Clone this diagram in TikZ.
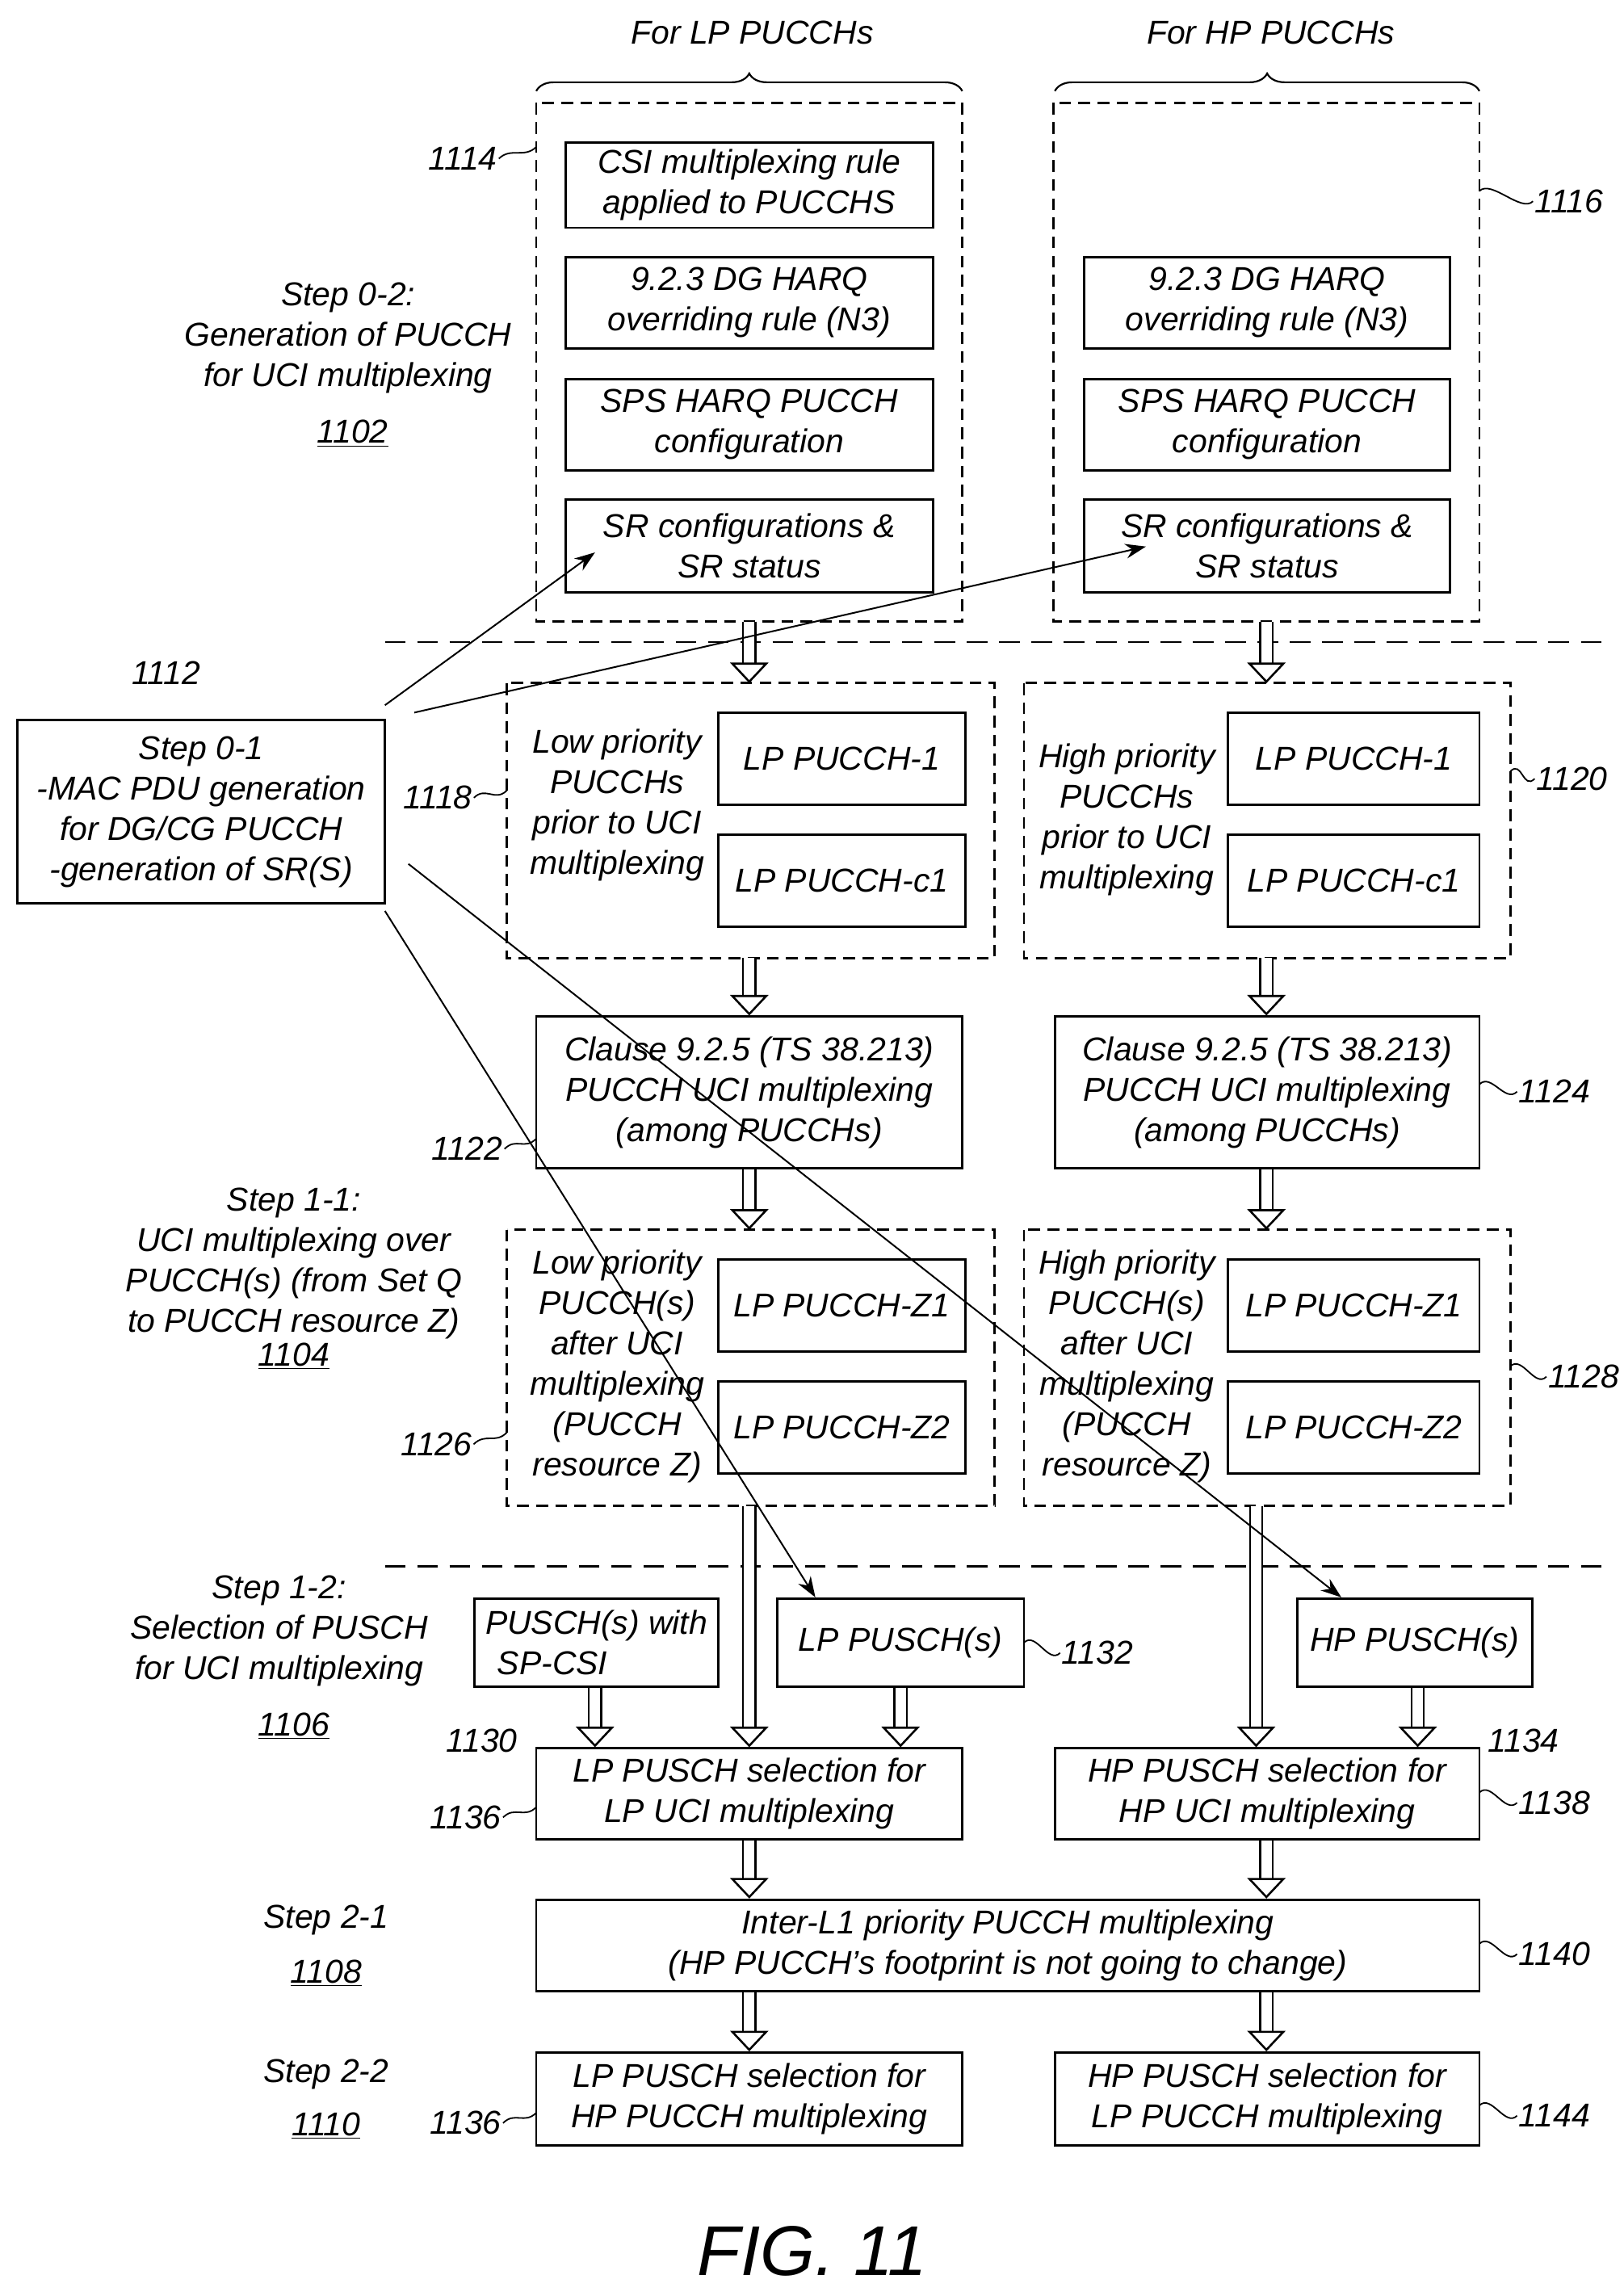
\documentclass[tikz,border=0pt]{standalone}
\usepackage{fontspec}
\setmainfont{Liberation Sans}
\usetikzlibrary{arrows.meta,decorations.pathreplacing,calc}
\begin{document}
\begin{tikzpicture}[x=1pt,y=-1pt,font=\fontsize{22.5}{27.5}\selectfont\itshape,
    box/.style={draw, line width=1.6pt, align=center, inner sep=0pt},
    grp/.style={draw, line width=1.6pt, dash pattern=on 8pt off 5pt},
    hollow/.style={double, double distance=7pt, line width=1.4pt, -{Triangle[open,length=14pt,width=26pt]}},
    thin/.style={line width=1.1pt, -{Stealth[length=14pt,width=10pt]}},
    lead/.style={line width=1pt},
    lbl/.style={align=center, inner sep=1pt}]
\useasboundingbox (0,0) rectangle (1105,1560);
\newcommand\bx[6]{\node[box, minimum width=#4-#2, minimum height=#5-#3] (#1) at ({(#2+#4)/2},{(#3+#5)/2}) {#6};}
% headers and braces
\node (hLP) at (512,22) {For LP PUCCHs};
\node (hHP) at (865,22) {For HP PUCCHs};
\draw[line width=1.2pt, decorate, decoration={brace, amplitude=12pt}] (365,62) -- (655,62);
\draw[line width=1.2pt, decorate, decoration={brace, amplitude=12pt}] (718,62) -- (1007,62);
% top groups
\draw[grp] (365,70) rectangle (655,423);
\draw[grp] (717,70) rectangle (1007,423);
\coordinate (gLs) at (510,423); \coordinate (gHs) at (862,423);
\bx{csi}{385}{97}{635}{155}{CSI multiplexing rule\\applied to PUCCHS}
\bx{dgL}{385}{175}{635}{237}{9.2.3 DG HARQ\\overriding rule (N3)}
\bx{spsL}{385}{258}{635}{320}{SPS HARQ PUCCH\\configuration}
\bx{srL}{385}{340}{635}{403}{SR configurations \&\\SR status}
\bx{dgH}{738}{175}{987}{237}{9.2.3 DG HARQ\\overriding rule (N3)}
\bx{spsH}{738}{258}{987}{320}{SPS HARQ PUCCH\\configuration}
\bx{srH}{738}{340}{987}{403}{SR configurations \&\\SR status}
\node[lbl] (n1114) at (315,108) {1114};
\node[lbl] (n1116) at (1068,137) {1116};
\draw[lead] (n1114.east) .. controls +(8,-8) and +(-8,8) .. (365,100);
\draw[lead] (n1116.west) .. controls +(-8,8) and +(8,-8) .. (1007,130);
\node[lbl] (s02) at (237,230) {Step 0-2:\\Generation of PUCCH\\for UCI multiplexing};
\node[lbl] (n1102) at (240,295) {\underline{1102}};
% separators
\draw[line width=1.6pt, dash pattern=on 14pt off 8pt] (262,437) -- (1095,437);
\draw[line width=1.6pt, dash pattern=on 14pt off 8pt] (262,1066) -- (1095,1066);
% step 0-1
\bx{s01}{12}{490}{262}{615}{Step 0-1\\-MAC PDU generation\\for DG/CG PUCCH\\-generation of SR(S)}
\node[lbl] (n1112) at (113,458) {1112};
% prior groups
\draw[grp] (345,465) rectangle (677,652);
\draw[grp] (697,465) rectangle (1028,652);
\coordinate (pLn) at (510,465); \coordinate (pHn) at (862,465);
\coordinate (pLs) at (510,652); \coordinate (pHs) at (862,652);
\bx{lp1}{489}{485}{657}{548}{LP PUCCH-1}
\bx{lpc}{489}{568}{657}{631}{LP PUCCH-c1}
\bx{hp1}{836}{485}{1007}{548}{LP PUCCH-1}
\bx{hpc}{836}{568}{1007}{631}{LP PUCCH-c1}
\node[lbl] (tL1) at (420,548) {Low priority\\PUCCHs\\prior to UCI\\multiplexing};
\node[lbl] (tH1) at (767,558) {High priority\\PUCCHs\\prior to UCI\\multiplexing};
\node[lbl] (n1118) at (298,543) {1118};
\node[lbl] (n1120) at (1070,530) {1120};
\draw[lead] (n1118.east) .. controls +(8,-8) and +(-8,8) .. (345,538);
\draw[lead] (n1120.west) .. controls +(-8,8) and +(8,-8) .. (1028,525);
% clause boxes
\bx{clL}{365}{692}{655}{795}{Clause 9.2.5 (TS 38.213)\\PUCCH UCI multiplexing\\(among PUCCHs)}
\bx{clH}{718}{692}{1007}{795}{Clause 9.2.5 (TS 38.213)\\PUCCH UCI multiplexing\\(among PUCCHs)}
\node[lbl] (n1122) at (318,782) {1122};
\node[lbl] (n1124) at (1058,743) {1124};
\draw[lead] (n1122.east) .. controls +(8,-8) and +(-8,8) .. (365,775);
\draw[lead] (n1124.west) .. controls +(-8,8) and +(8,-8) .. (1007,738);
% after groups
\draw[grp] (345,837) rectangle (677,1025);
\draw[grp] (697,837) rectangle (1028,1025);
\coordinate (aLn) at (510,837); \coordinate (aHn) at (862,837);
\coordinate (aLs) at (510,1025); \coordinate (aHs) at (855,1025);
\bx{lz1}{489}{857}{657}{920}{LP PUCCH-Z1}
\bx{lz2}{489}{940}{657}{1003}{LP PUCCH-Z2}
\bx{hz1}{836}{857}{1007}{920}{LP PUCCH-Z1}
\bx{hz2}{836}{940}{1007}{1003}{LP PUCCH-Z2}
\node[lbl] (tL2) at (420,930) {Low priority\\PUCCH(s)\\after UCI\\multiplexing\\(PUCCH\\resource Z)};
\node[lbl] (tH2) at (767,930) {High priority\\PUCCH(s)\\after UCI\\multiplexing\\(PUCCH\\resource Z)};
\node[lbl] (n1126) at (297,983) {1126};
\node[lbl] (n1128) at (1078,937) {1128};
\draw[lead] (n1126.east) .. controls +(8,-8) and +(-8,8) .. (345,975);
\draw[lead] (n1128.west) .. controls +(-8,8) and +(8,-8) .. (1028,930);
\node[lbl] (s11) at (200,860) {Step 1-1:\\UCI multiplexing over\\PUCCH(s) (from Set Q\\to PUCCH resource Z)};
\node[lbl] (n1104) at (200,923) {\underline{1104}};
% pusch
\node[lbl] (s12) at (190,1110) {Step 1-2:\\Selection of PUSCH\\for UCI multiplexing};
\node[lbl] (n1106) at (200,1175) {\underline{1106}};
\bx{csiP}{323}{1088}{489}{1148}{PUSCH(s) with\\SP-CSI\hspace*{60pt}}
\bx{lpP}{529}{1088}{697}{1148}{LP PUSCH(s)}
\bx{hpP}{883}{1088}{1043}{1148}{HP PUSCH(s)}
\node[lbl] (n1130) at (328,1185) {1130};
\node[lbl] (n1132) at (747,1125) {1132};
\node[lbl] (n1134) at (1037,1185) {1134};
\draw[lead] (n1132.west) .. controls +(-8,8) and +(8,-8) .. (697,1118);
\bx{selL}{365}{1190}{655}{1252}{LP PUSCH selection for\\LP UCI multiplexing}
\bx{selH}{718}{1190}{1007}{1252}{HP PUSCH selection for\\HP UCI multiplexing}
\node[lbl] (n1136) at (317,1237) {1136};
\node[lbl] (n1138) at (1058,1227) {1138};
\draw[lead] (n1136.east) .. controls +(8,-8) and +(-8,8) .. (365,1230);
\draw[lead] (n1138.west) .. controls +(-8,8) and +(8,-8) .. (1007,1220);
% step 2
\bx{inter}{365}{1293}{1007}{1355}{Inter-L1 priority PUCCH multiplexing\\(HP PUCCH’s footprint is not going to change)}
\node[lbl] (n1140) at (1058,1330) {1140};
\draw[lead] (n1140.west) .. controls +(-8,8) and +(8,-8) .. (1007,1323);
\node[lbl] (s21) at (222,1307) {Step 2-1};
\node[lbl] (n1108) at (222,1343) {\underline{1108}};
\bx{finL}{365}{1397}{655}{1460}{LP PUSCH selection for\\HP PUCCH multiplexing}
\bx{finH}{718}{1397}{1007}{1460}{HP PUSCH selection for\\LP PUCCH multiplexing}
\node[lbl] (n1136b) at (317,1445) {1136};
\node[lbl] (n1144) at (1058,1440) {1144};
\draw[lead] (n1136b.east) .. controls +(8,-8) and +(-8,8) .. (365,1438);
\draw[lead] (n1144.west) .. controls +(-8,8) and +(8,-8) .. (1007,1433);
\node[lbl] (s22) at (222,1412) {Step 2-2};
\node[lbl] (n1110) at (222,1447) {\underline{1110}};
\node[font=\fontsize{48}{52}\selectfont\itshape] (fig) at (553,1532) {FIG. 11};
% hollow arrows
\draw[hollow] (gLs) -- (pLn);
\draw[hollow] (gHs) -- (pHn);
\draw[hollow] (pLs) -- (clL.north -| pLs);
\draw[hollow] (pHs) -- (clH.north -| pHs);
\draw[hollow] (clL.south -| aLn) -- (aLn);
\draw[hollow] (clH.south -| aHn) -- (aHn);
\draw[hollow] (aLs) -- (selL.north -| aLs);
\draw[hollow] (aHs) -- (selH.north -| aHs);
\draw[hollow] (csiP.south -| 405,0) -- (selL.north -| 405,0);
\draw[hollow] (lpP.south -| 613,0) -- (selL.north -| 613,0);
\draw[hollow] (hpP.south -| 965,0) -- (selH.north -| 965,0);
\draw[hollow] (selL.south -| 510,0) -- (inter.north -| 510,0);
\draw[hollow] (selH.south -| 862,0) -- (inter.north -| 862,0);
\draw[hollow] (inter.south -| 510,0) -- (finL.north -| 510,0);
\draw[hollow] (inter.south -| 862,0) -- (finH.north -| 862,0);
% thin arrows from step 0-1
\coordinate (o1) at (262,480); \coordinate (o2) at (282,485);
\coordinate (o3) at (278,588); \coordinate (o4) at (262,620);
\coordinate (e1) at (405,376); \coordinate (e2) at (780,372);
\draw[thin] (o1) -- (e1);
\draw[thin] (o2) -- (e2);
\draw[thin] (o3) -- (hpP.north -| 913,0);
\draw[thin] (o4) -- (lpP.north -| 555,0);
\end{tikzpicture}
\end{document}
